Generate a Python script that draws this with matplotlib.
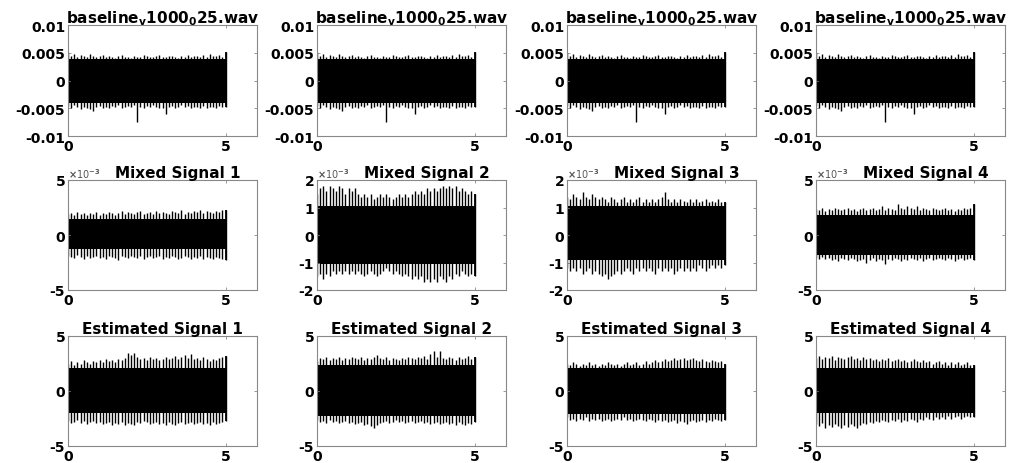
import numpy as np
import matplotlib
matplotlib.use("Agg")
import matplotlib.pyplot as plt

plt.rcParams['font.family'] = ['DejaVu Sans']
plt.rcParams['font.weight'] = 'bold'
plt.rcParams['axes.unicode_minus'] = False
plt.rcParams['mathtext.fontset'] = 'custom'
plt.rcParams['mathtext.rm'] = 'DejaVu Sans:bold'
plt.rcParams['mathtext.bf'] = 'DejaVu Sans:bold'

# ---- data: peak envelopes read every 0.1 s over 0..5 s ----
t_sec = np.round(np.arange(0, 5.0001, 0.1), 1)

# baseline recording (x1e-3)
base_up = [4.9,4.5,4.7,4.3,4.6,4.4,4.2,4.7,4.5,4.3,
           4.4,4.6,4.2,4.5,4.3,4.1,4.4,4.6,4.2,4.3,
           4.1,4.5,4.3,4.2,4.6,4.4,4.3,4.2,4.5,4.6,
           4.3,4.2,4.4,4.5,4.3,4.1,4.4,4.2,4.6,4.3,
           4.5,4.4,4.2,4.6,4.3,4.7,4.4,4.5,4.6,4.3,5.1]
base_lo = [-4.6,-4.9,-4.5,-4.8,-5.1,-4.7,-4.9,-5.2,-5.5,-4.8,
           -4.6,-4.9,-4.7,-5.0,-4.6,-4.8,-4.5,-4.9,-4.7,-4.6,
           -4.8,-4.5,-7.5,-4.7,-4.9,-4.6,-4.8,-4.5,-4.7,-4.9,
           -5.0,-6.0,-4.8,-4.6,-4.9,-4.7,-4.5,-4.8,-4.6,-4.9,
           -4.7,-4.8,-5.0,-4.6,-4.9,-4.7,-4.8,-5.0,-4.6,-4.8,-4.7]
base_core = (3.8, -4.0)

# mixed signals (x1e-3)
mix1_up = [1.9,2.0,1.8,2.1,1.9,2.0,1.8,2.0,1.9,2.1,
           1.8,2.0,1.9,2.1,2.0,1.8,2.0,2.2,1.9,2.1,
           2.0,1.9,2.1,2.2,1.9,2.0,2.1,1.9,2.2,2.0,
           2.1,2.0,1.9,2.2,2.1,2.0,2.3,1.9,2.1,2.0,
           2.2,2.1,2.3,2.0,2.2,2.1,2.0,2.2,2.1,2.3,2.3]
mix1_lo = [-1.9,-2.0,-2.1,-1.8,-2.0,-2.2,-1.9,-2.1,-2.0,-1.9,
           -2.1,-2.0,-2.2,-1.9,-2.0,-2.1,-2.3,-1.9,-2.0,-2.1,
           -1.9,-2.0,-2.1,-1.9,-2.2,-2.0,-1.9,-2.1,-2.0,-1.9,
           -2.2,-2.0,-2.1,-1.9,-2.0,-2.2,-2.1,-1.9,-2.0,-2.2,
           -2.0,-2.1,-1.9,-2.2,-2.0,-2.1,-2.2,-2.0,-2.1,-2.2,-2.3]
mix2_up = [1.5,1.7,1.8,1.6,1.8,1.7,1.6,1.8,1.7,1.5,
           1.7,1.6,1.7,1.5,1.4,1.5,1.4,1.5,1.3,1.4,
           1.5,1.4,1.5,1.4,1.3,1.4,1.5,1.4,1.5,1.4,
           1.5,1.6,1.5,1.6,1.5,1.7,1.6,1.7,1.6,1.7,
           1.8,1.7,1.8,1.7,1.8,1.6,1.7,1.6,1.5,1.6,1.5]
mix2_lo = [-1.5,-1.4,-1.6,-1.4,-1.5,-1.3,-1.4,-1.3,-1.4,-1.3,
           -1.4,-1.3,-1.4,-1.3,-1.4,-1.5,-1.4,-1.3,-1.4,-1.5,
           -1.4,-1.3,-1.2,-1.3,-1.4,-1.3,-1.4,-1.5,-1.4,-1.5,
           -1.6,-1.5,-1.6,-1.5,-1.7,-1.6,-1.7,-1.6,-1.7,-1.5,
           -1.6,-1.7,-1.5,-1.6,-1.4,-1.5,-1.3,-1.4,-1.5,-1.4,-1.5]
mix3_up = [1.4,1.3,1.5,1.4,1.3,1.55,1.4,1.3,1.5,1.4,
           1.3,1.4,1.3,1.2,1.4,1.3,1.2,1.3,1.4,1.2,
           1.3,1.2,1.3,1.4,1.2,1.3,1.2,1.3,1.2,1.3,
           1.4,1.55,1.3,1.2,1.3,1.2,1.3,1.25,1.2,1.3,
           1.2,1.3,1.2,1.25,1.3,1.2,1.25,1.2,1.3,1.2,1.2]
mix3_lo = [-1.2,-1.3,-1.2,-1.3,-1.2,-1.4,-1.3,-1.2,-1.4,-1.3,
           -1.4,-1.5,-1.4,-1.6,-1.5,-1.4,-1.3,-1.4,-1.3,-1.2,
           -1.3,-1.4,-1.2,-1.3,-1.2,-1.3,-1.2,-1.3,-1.4,-1.2,
           -1.3,-1.2,-1.3,-1.2,-1.4,-1.3,-1.2,-1.3,-1.2,-1.3,
           -1.2,-1.3,-1.1,-1.2,-1.3,-1.2,-1.1,-1.2,-1.1,-1.2,-1.1]
mix4_up = [2.4,2.3,2.5,2.2,2.4,2.3,2.5,2.4,2.3,2.4,
           2.5,2.3,2.4,2.2,2.4,2.5,2.3,2.4,2.5,2.3,
           2.4,2.6,2.3,2.5,2.4,2.3,2.8,2.5,2.4,2.6,
           2.5,2.4,2.6,2.3,2.5,2.4,2.3,2.5,2.4,2.3,
           2.4,2.5,2.3,2.4,2.2,2.4,2.3,2.5,2.4,2.5,2.8]
mix4_lo = [-2.1,-2.2,-2.0,-2.2,-2.1,-2.3,-2.2,-2.4,-2.1,-2.2,
           -2.3,-2.1,-2.2,-2.4,-2.3,-2.2,-2.5,-2.3,-2.1,-2.4,
           -2.2,-2.3,-2.6,-2.2,-2.3,-2.1,-2.2,-2.4,-2.2,-2.3,
           -2.1,-2.2,-2.3,-2.1,-2.4,-2.2,-2.1,-2.3,-2.2,-2.1,
           -2.2,-2.3,-2.1,-2.2,-2.4,-2.2,-2.1,-2.3,-2.2,-2.1,-2.3]
mix_core = [(1.5, -1.3), (1.05, -1.05), (1.05, -0.9), (1.8, -1.8)]

# estimated signals
est1_up = [2.5,2.7,2.4,2.6,2.5,2.8,2.6,2.5,2.7,2.6,
           2.8,2.6,2.9,2.7,2.8,2.6,2.9,2.8,3.0,3.5,
           3.3,3.5,3.1,2.9,3.0,2.8,3.1,2.9,3.0,2.8,
           2.9,3.1,2.9,3.0,3.2,2.9,3.1,3.3,3.0,3.4,
           2.9,3.0,2.8,3.1,2.9,2.7,2.9,2.8,3.0,3.1,3.2]
est1_lo = [-2.7,-2.9,-2.8,-2.6,-2.9,-2.7,-3.0,-2.8,-2.7,-2.9,
           -2.8,-3.0,-2.9,-2.8,-3.1,-2.9,-3.0,-2.8,-3.1,-2.9,
           -3.0,-3.1,-2.8,-2.9,-2.7,-2.8,-3.0,-2.9,-2.8,-3.0,
           -2.9,-3.1,-2.8,-3.0,-3.1,-2.9,-2.8,-3.0,-2.9,-2.8,
           -3.0,-2.9,-2.8,-3.0,-2.9,-3.1,-2.8,-3.0,-2.9,-2.8,-2.7]
est2_up = [2.7,3.0,2.9,3.1,2.8,3.0,2.9,3.1,2.8,3.0,
           2.9,3.1,3.0,2.9,3.1,2.8,3.0,2.9,3.1,3.3,
           3.0,2.9,3.1,2.8,3.0,2.9,2.8,3.0,2.9,3.1,
           3.0,2.9,3.1,3.0,3.2,2.9,3.4,3.6,3.1,3.6,
           3.0,2.9,3.1,3.0,2.8,3.1,2.9,3.0,3.2,2.9,3.1]
est2_lo = [-2.6,-2.8,-2.7,-2.9,-2.6,-2.8,-2.7,-2.9,-2.8,-2.7,
           -2.9,-2.8,-3.0,-2.9,-2.8,-3.1,-3.0,-3.2,-3.4,-3.1,
           -2.9,-2.8,-2.7,-2.9,-2.8,-2.6,-2.8,-2.7,-2.9,-2.8,
           -2.7,-2.9,-2.8,-2.7,-2.9,-2.8,-3.0,-2.9,-2.8,-3.0,
           -2.9,-2.8,-3.0,-2.9,-3.1,-2.8,-3.0,-3.1,-2.9,-3.0,-2.8]
est3_up = [2.5,2.4,2.6,2.5,2.3,2.5,2.4,2.6,2.4,2.5,
           2.3,2.5,2.4,2.6,2.5,2.4,2.5,2.3,2.5,2.6,
           2.4,2.5,2.6,2.4,2.5,2.7,2.5,2.6,2.8,2.6,
           2.7,2.9,2.7,2.8,3.0,2.8,2.9,3.0,2.8,2.9,
           3.0,2.8,2.7,2.9,2.7,2.6,2.8,2.7,2.6,2.7,2.5]
est3_lo = [-2.4,-2.6,-2.5,-2.7,-2.5,-2.6,-2.4,-2.7,-2.5,-2.6,
           -2.5,-2.7,-2.6,-2.5,-2.7,-2.6,-2.5,-2.6,-2.4,-2.6,
           -2.5,-2.7,-2.6,-2.5,-2.6,-2.7,-2.5,-2.6,-2.8,-2.6,
           -2.7,-2.6,-2.8,-2.7,-2.6,-2.9,-2.7,-2.8,-3.0,-2.7,
           -2.6,-2.8,-2.7,-2.6,-2.8,-2.6,-2.7,-2.5,-2.6,-2.7,-2.6]
est4_up = [3.0,3.2,2.9,3.1,3.0,3.2,2.8,3.1,3.0,2.9,
           3.1,3.2,2.9,3.0,2.8,3.1,2.9,3.0,2.8,2.9,
           2.7,2.9,2.8,3.0,2.7,2.8,2.9,2.7,2.8,2.6,
           2.7,2.9,2.7,2.6,2.8,2.6,2.7,2.5,2.6,2.7,
           2.5,2.6,2.4,2.6,2.5,2.6,2.4,2.5,2.6,2.4,2.4]
est4_lo = [-3.0,-3.2,-2.9,-3.4,-3.1,-3.3,-3.0,-3.2,-3.4,-3.1,
           -3.3,-3.0,-3.2,-3.4,-3.1,-2.9,-3.0,-2.8,-2.9,-2.7,
           -2.8,-2.6,-2.7,-2.8,-2.6,-2.7,-2.5,-2.8,-2.6,-2.7,
           -2.5,-2.6,-2.8,-2.5,-2.6,-2.4,-2.5,-2.6,-2.4,-2.5,
           -2.4,-2.5,-2.3,-2.5,-2.4,-2.3,-2.5,-2.4,-2.3,-2.4,-2.4]
est_core = [(2.1, -2.0), (2.4, -2.3), (2.1, -2.1), (2.1, -2.0)]

baseline_title = r"baseline$_{\mathbf{v}}$1000$_{\mathbf{0}}$25.wav"
mixed_titles = ["Mixed Signal 1", "Mixed Signal 2", "Mixed Signal 3", "Mixed Signal 4"]
est_titles = ["Estimated Signal 1", "Estimated Signal 2", "Estimated Signal 3", "Estimated Signal 4"]

x_ticks = [0, 5]
base_yticks = [-0.01, -0.005, 0, 0.005, 0.01]
base_yticklabels = ["-0.01", "-0.005", "0", "0.005", "0.01"]
mix_ylims = [(-5, 5), (-2, 2), (-2, 2), (-5, 5)]
mix_yticks = [[-5, 0, 5], [-2, -1, 0, 1, 2], [-2, -1, 0, 1, 2], [-5, 0, 5]]
est_yticks = [-5, 0, 5]

# ---- layout ----
W, H = 1021, 464
fig = plt.figure(figsize=(W / 100, H / 100), dpi=100)
col_left = [68, 317, 567, 816]
ax_w = 189
row_tb = [(26, 137), (181, 291), (337, 447)]

def make_ax(r, c):
    top, bot = row_tb[r]
    ax = fig.add_axes([col_left[c] / W, 1 - bot / H, ax_w / W, (bot - top) / H])
    ax.set_xlim(0, 6)
    ax.set_xticks(x_ticks)
    ax.tick_params(direction='in', length=2.5, width=0.6, top=True, right=True,
                   labelsize=10, pad=2, colors='#888888', labelcolor='black')
    for s in ax.spines.values():
        s.set_color('#888888')
        s.set_linewidth(0.8)
    return ax

def draw_sig(ax, up, lo, core, scale):
    up = np.asarray(up) * scale
    lo = np.asarray(lo) * scale
    ax.fill_between(t_sec, core[1] * scale, core[0] * scale, color='black', lw=0)
    ax.vlines(t_sec, lo, up, color='black', lw=1.0)
    ax.vlines([t_sec[0], t_sec[-1]], lo[[0, -1]], up[[0, -1]], color='black', lw=1.3)

mix_up = [mix1_up, mix2_up, mix3_up, mix4_up]
mix_lo = [mix1_lo, mix2_lo, mix3_lo, mix4_lo]
est_up = [est1_up, est2_up, est3_up, est4_up]
est_lo = [est1_lo, est2_lo, est3_lo, est4_lo]

for c in range(4):
    # row 1: baseline
    ax = make_ax(0, c)
    draw_sig(ax, base_up, base_lo, base_core, 1e-3)
    ax.set_ylim(-0.01, 0.01)
    ax.set_yticks(base_yticks)
    ax.set_yticklabels(base_yticklabels)
    ax.set_xticklabels([str(v) for v in x_ticks])
    ax.set_title(baseline_title, fontsize=11, fontweight='bold', pad=2)

    # row 2: mixed
    ax = make_ax(1, c)
    draw_sig(ax, mix_up[c], mix_lo[c], mix_core[c], 1.0)
    ax.set_ylim(*mix_ylims[c])
    ax.set_yticks(mix_yticks[c])
    ax.set_yticklabels([str(v) for v in mix_yticks[c]])
    ax.set_xticklabels([str(v) for v in x_ticks])
    ax.text(0.0, 1.0, r"$\times$10$^{-3}$", transform=ax.transAxes, fontsize=7,
            color='#555555', ha='left', va='bottom', fontweight='normal')
    ax.set_title(mixed_titles[c], fontsize=11, fontweight='bold', pad=2, x=0.58)

    # row 3: estimated
    ax = make_ax(2, c)
    draw_sig(ax, est_up[c], est_lo[c], est_core[c], 1.0)
    ax.set_ylim(-5, 5)
    ax.set_yticks(est_yticks)
    ax.set_yticklabels([str(v) for v in est_yticks])
    ax.set_xticklabels([str(v) for v in x_ticks])
    ax.set_title(est_titles[c], fontsize=11, fontweight='bold', pad=2)

fig.savefig("out.png", dpi=100, facecolor='white')
